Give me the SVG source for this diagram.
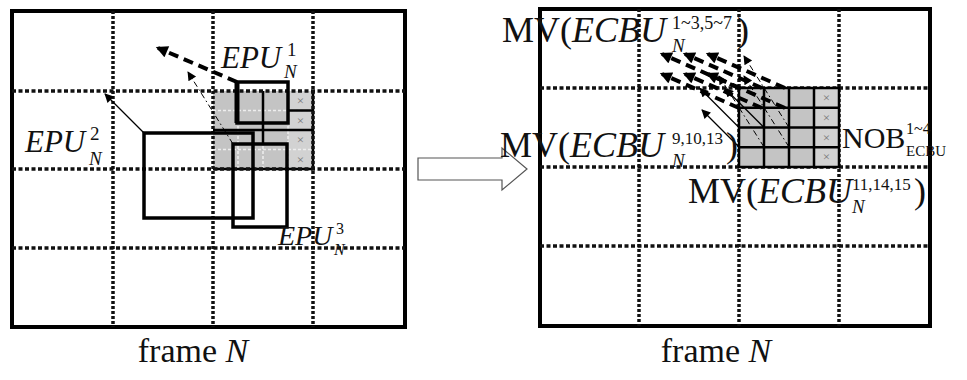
<svg xmlns="http://www.w3.org/2000/svg" width="967" height="380" viewBox="0 0 967 380">
  <style>
    .frame { fill: none; stroke: #000; stroke-width: 4; }
    .hdot { stroke: #111; stroke-width: 3.5; stroke-dasharray: 4 2.5; fill: none; }
    .vdot { stroke: #111; stroke-width: 3.5; stroke-dasharray: 3 2; fill: none; }
    .shade { fill: #c4c4c4; }
    .shadex { fill: #d2d2d2; }
    .subgrid { stroke: #eee; stroke-width: 1.5; stroke-dasharray: 3 2; fill: none; }
    .blk { stroke: #000; stroke-width: 2.5; fill: none; }
    .epu { fill: none; stroke: #000; stroke-width: 3.5; }
    .mv1 { stroke: #000; stroke-width: 4; stroke-dasharray: 10 6; fill: none; }
    .mv2 { stroke: #000; stroke-width: 1.3; fill: none; }
    .mv3 { stroke: #000; stroke-width: 1; stroke-dasharray: 6 3 1.5 3; fill: none; }
    .xm { font-family: "Liberation Serif", serif; font-size: 13px; fill: #777; text-anchor: middle; }
    .lbl { font-family: "Liberation Serif", "Times New Roman", serif; fill: #111; }
    .it { font-style: italic; }
    .big { font-size: 31px; }
    .mv { font-size: 36px; }
    .sm { font-size: 19px; }
    .sup { font-size: 17px; }
    .cap { font-family: "Liberation Serif", serif; font-size: 34px; fill: #111; text-anchor: middle; }
  </style>
  <defs>
    <marker id="hThick" viewBox="0 0 10 10" refX="8" refY="5" markerWidth="14" markerHeight="12" markerUnits="userSpaceOnUse" orient="auto">
      <path d="M0,0 L10,5 L0,10 z" fill="#000"/>
    </marker>
    <marker id="hThin" viewBox="0 0 10 10" refX="9" refY="5" markerWidth="12" markerHeight="9" markerUnits="userSpaceOnUse" orient="auto">
      <path d="M0,0 L10,5 L0,10 z" fill="#000"/>
    </marker>
  </defs>

  <!-- left frame: prediction units -->
  <g id="frameLeft">
    <rect class="frame" x="12" y="11" width="393" height="316"/>
    <!-- shaded 4x4 block area -->
    <rect class="shade" x="213" y="91" width="100" height="78"/>
    <rect class="shadex" x="288" y="91" width="25" height="78"/>
    <path class="subgrid" d="M238,91V169M263,91V169M288,91V169M213,110.5H313M213,130H313M213,149.5H313"/>
    <path class="blk" d="M263,91V144M288,110.5H313M213,130H313M313,91V169M213,169H313"/>
    <text class="xm" x="300.5" y="105">×</text>
    <text class="xm" x="300.5" y="124.5">×</text>
    <text class="xm" x="300.5" y="144">×</text>
    <text class="xm" x="300.5" y="163.5">×</text>
    <path class="vdot" d="M113,11V327M213,11V327M313,11V327"/>
    <path class="hdot" d="M12,91H405M12,169H405M12,248H405"/>
  </g>

  <g id="epu1">
    <rect class="epu" x="237" y="82" width="51" height="41"/>
    <path d="M237,82V123" stroke="#000" stroke-width="5"/>
    <text class="lbl it big" x="221" y="68">EPU</text>
    <text class="lbl sm" x="287" y="56">1</text>
    <text class="lbl it sm" x="284" y="78">N</text>
  </g>
  <g id="epu2">
    <rect class="epu" x="144" y="133" width="109" height="85"/>
    <text class="lbl it big" x="25" y="152">EPU</text>
    <text class="lbl sm" x="90" y="140">2</text>
    <text class="lbl it sm" x="89" y="165">N</text>
  </g>
  <g id="epu3">
    <rect class="epu" x="233" y="144" width="54" height="83"/>
    <text class="lbl it" style="font-size:28px" x="278" y="245">EPU</text>
    <text class="lbl" style="font-size:16px" x="336" y="234">3</text>
    <text class="lbl it" style="font-size:16px" x="334" y="255">N</text>
  </g>

  <!-- transition arrow -->
  <g id="transition">
    <path d="M418,158H502V148L527,169L502,190V180H418Z" fill="#fff" stroke="#555" stroke-width="1.2"/>
  </g>

  <!-- right frame: equivalent coding blocks -->
  <g id="frameRight">
    <rect class="frame" x="540" y="9" width="390" height="317"/>
    <path class="vdot" d="M639,9V326M739,9V326M839,9V326"/>
    <path class="hdot" d="M540,88H930M540,167H930M540,246H930"/>
  </g>

  <g id="ecbuBlocks">
    <rect class="shade" x="739" y="88" width="100" height="79"/>
    <rect class="shadex" x="814" y="88" width="25" height="79"/>
    <text class="xm" x="826.5" y="102">×</text>
    <text class="xm" x="826.5" y="122">×</text>
    <text class="xm" x="826.5" y="141.5">×</text>
    <text class="xm" x="826.5" y="161">×</text>
    <path class="blk" d="M739,88H839V167H739ZM764,88V167M789,88V167M814,88V167M739,107.75H839M739,127.5H839M739,147.25H839"/>
  </g>

  <!-- motion vectors -->
  <g id="connectors">
    <line class="mv1" x1="237" y1="82" x2="158" y2="48" marker-end="url(#hThick)"/>
    <line class="mv2" x1="144" y1="133" x2="105" y2="94" marker-end="url(#hThin)"/>
    <line class="mv3" x1="233" y1="144" x2="188" y2="72" marker-end="url(#hThin)"/>

    <line class="mv1" x1="739" y1="88" x2="662" y2="54" marker-end="url(#hThick)"/>
    <line class="mv1" x1="762" y1="88" x2="685" y2="54" marker-end="url(#hThick)"/>
    <line class="mv1" x1="785" y1="88" x2="708" y2="54" marker-end="url(#hThick)"/>
    <line class="mv1" x1="739" y1="108" x2="662" y2="74" marker-end="url(#hThick)"/>
    <line class="mv1" x1="762" y1="108" x2="685" y2="74" marker-end="url(#hThick)"/>
    <line class="mv1" x1="785" y1="108" x2="708" y2="74" marker-end="url(#hThick)"/>

    <line class="mv2" x1="739" y1="127.5" x2="700" y2="88.5" marker-end="url(#hThin)"/>
    <line class="mv2" x1="764" y1="127.5" x2="725" y2="88.5" marker-end="url(#hThin)"/>
    <line class="mv2" x1="739" y1="147" x2="702" y2="110" marker-end="url(#hThin)"/>

    <line class="mv3" x1="789" y1="127.5" x2="744" y2="56" marker-end="url(#hThin)"/>
    <line class="mv3" x1="764" y1="147" x2="719" y2="76" marker-end="url(#hThin)"/>
    <line class="mv3" x1="789" y1="147" x2="744" y2="76" marker-end="url(#hThin)"/>
  </g>

  <!-- labels of the right frame -->
  <g id="labelTop">
    <text class="lbl mv" x="502" y="42">MV(<tspan class="it">ECBU</tspan></text>
    <text class="lbl" style="font-size:18px" x="672" y="29">1~3,5~7</text>
    <text class="lbl it sm" x="672" y="52">N</text>
    <text class="lbl mv" x="737" y="42">)</text>
  </g>
  <g id="labelMid">
    <text class="lbl mv" x="500" y="157">MV(<tspan class="it">ECBU</tspan></text>
    <text class="lbl sup" x="672" y="144">9,10,13</text>
    <text class="lbl it sm" x="672" y="167">N</text>
    <text class="lbl mv" x="726" y="157">)</text>
  </g>
  <g id="labelLow">
    <text class="lbl mv" x="688" y="203">MV(<tspan class="it">ECBU</tspan></text>
    <text class="lbl sup" x="852" y="190">11,14,15</text>
    <text class="lbl it sm" x="852" y="213">N</text>
    <text class="lbl mv" x="914" y="203">)</text>
  </g>
  <g id="labelNob">
    <text class="lbl" style="font-size:30px" x="842" y="148">NOB</text>
    <text class="lbl" style="font-size:16px" x="906" y="134">1~4</text>
    <text class="lbl" style="font-size:15px" x="906" y="156">ECBU</text>
  </g>

  <g id="captions">
    <text class="cap" x="193" y="362">frame <tspan class="it">N</tspan></text>
    <text class="cap" x="716" y="362">frame <tspan class="it">N</tspan></text>
  </g>
</svg>
